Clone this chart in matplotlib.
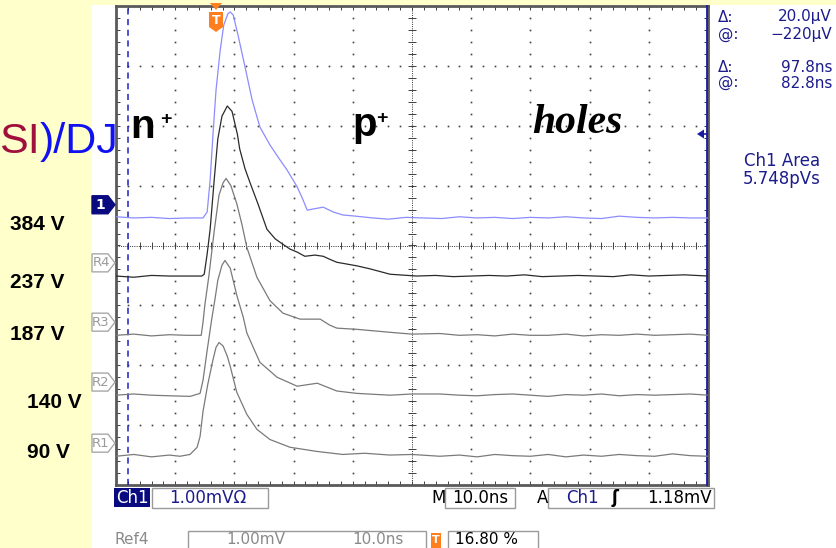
import matplotlib
matplotlib.use('Agg')
import matplotlib.pyplot as plt
from matplotlib.patches import Polygon, Rectangle
from matplotlib.collections import LineCollection
import numpy as np

# time in ns (10 ns/div), signal in mV (1 mV/div) above each trace's flat level
t_ch1 = [0, 3, 6, 9, 12, 14.7, 15.4, 15.9, 16.4, 16.9, 17.6, 18.2, 18.9, 19.3, 19.8, 20.6, 21.8, 23.0, 24.3, 26.0,
         27.7, 28.9, 30.6, 31.6, 32.3, 33.3, 35.0, 36.7, 38.3, 40.5, 43.4, 46, 49, 52, 55, 58, 61, 64, 67, 70,
         73, 76, 79, 82, 85, 88, 91, 94, 97, 100]
v_ch1 = [0.02, 0.00, 0.01, -0.01, 0.00, 0.00, 0.10, 0.63, 1.42, 2.14, 2.80, 3.22, 3.41, 3.44, 3.39, 3.06, 2.52, 1.97, 1.52, 1.22,
         0.97, 0.80, 0.52, 0.30, 0.13, 0.15, 0.18, 0.10, 0.05, 0.03, 0.00, -0.02, 0.01, 0.00, -0.01, 0.02, 0.00, 0.01, -0.01, 0.01,
         0.00, 0.02, 0.00, -0.01, 0.03, 0.01, 0.00, 0.01, 0.00, 0.00]

t_r4 = [0, 3, 6, 9, 12, 14.5, 14.9, 15.4, 15.9, 16.6, 17.2, 17.9, 18.8, 19.6, 20.5, 20.9, 21.8, 22.6, 24.0, 25.5,
        26.9, 28.2, 29.4, 30.6, 31.9, 33.6, 35.0, 36.1, 37.3, 39.0, 40.7, 42.9, 46.3, 50.8, 54, 57, 60, 63, 66, 69,
        72, 75, 78, 81, 84, 87, 90, 93, 96, 100]
v_r4 = [0.00, -0.02, 0.01, 0.00, 0.00, 0.00, 0.03, 0.37, 0.78, 1.62, 2.29, 2.67, 2.84, 2.75, 2.37, 2.12, 1.79, 1.57, 1.20, 0.78,
        0.62, 0.53, 0.45, 0.40, 0.33, 0.35, 0.33, 0.28, 0.23, 0.20, 0.17, 0.12, 0.03, 0.00, 0.01, -0.01, 0.00, 0.01, 0.00, 0.02,
        -0.01, 0.00, 0.01, 0.00, -0.01, 0.02, 0.00, 0.01, 0.02, 0.00]

t_r3 = [0, 3, 6, 9, 12, 14.4, 14.7, 15.0, 15.7, 16.6, 17.4, 18.1, 18.6, 19.4, 20.4, 21.3, 22.1, 23.8, 26.0, 28.2,
        31.1, 32.8, 34.5, 36.1, 37.3, 40.7, 46.3, 50, 54.7, 58, 61, 64, 67, 70, 73, 76, 79, 82, 85, 88,
        91, 94, 97, 100]
v_r3 = [0.00, 0.02, -0.01, 0.01, 0.00, 0.00, 0.22, 0.50, 1.00, 1.75, 2.34, 2.55, 2.62, 2.50, 2.20, 1.84, 1.47, 0.97, 0.58, 0.37,
        0.27, 0.27, 0.27, 0.17, 0.12, 0.10, 0.05, 0.02, 0.03, 0.00, 0.01, -0.01, 0.02, 0.00, 0.00, 0.02, -0.01, 0.01, 0.00, 0.02,
        0.00, 0.01, 0.02, 0.00]

t_r2 = [0, 3, 6, 9, 12.5, 14.2, 14.7, 15.4, 16.2, 16.7, 17.2, 17.9, 18.4, 19.3, 20.4, 21.5, 22.1, 24.3, 27.2, 30.6,
        34.0, 37.3, 40.7, 46.3, 50, 54.7, 58, 61, 64, 67, 70, 73, 76, 79, 82, 85, 88, 91, 94, 97, 100]
v_r2 = [0.00, 0.02, 0.00, -0.01, -0.02, 0.03, 0.25, 0.75, 1.29, 1.59, 1.92, 2.17, 2.25, 2.12, 1.67, 1.30, 1.04, 0.55, 0.30, 0.15,
        0.20, 0.07, 0.03, 0.00, 0.02, 0.02, 0.00, -0.01, 0.01, 0.02, 0.00, -0.02, 0.01, 0.00, 0.02, -0.01, 0.01, 0.00, 0.01, 0.02, 0.00]

t_r1 = [0, 3, 6, 9, 10.8, 12.5, 13.7, 14.2, 14.7, 15.5, 16.4, 16.9, 17.4, 18.1, 18.8, 19.3, 20.4, 22.1, 23.8, 26.0,
        29.4, 34.0, 38.3, 42, 46.3, 50, 54.7, 58, 61, 64, 67, 70, 73, 76, 79, 82, 85, 88, 91, 94, 97, 100]
v_r1 = [0.00, 0.03, -0.01, 0.02, 0.00, 0.03, 0.15, 0.33, 0.75, 1.20, 1.62, 1.82, 1.90, 1.84, 1.67, 1.50, 1.07, 0.70, 0.45, 0.28,
        0.15, 0.08, 0.03, 0.05, 0.02, 0.03, 0.00, 0.02, -0.01, 0.03, 0.01, 0.00, 0.03, -0.01, 0.02, 0.00, 0.03, 0.01, 0.00, 0.04, 0.01, 0.00]

trace_names = ['1', 'R4', 'R3', 'R2', 'R1']
ground_div = [0.68, -0.29, -1.28, -2.28, -3.30]   # marker positions on screen (div)
level_mv = -0.22                                    # flat level vs ground, mV
bias_labels = ['384 V', '237 V', '187 V', '140 V', '90 V']

W, H = 836, 548
YELLOW = '#FFFFCC'
NAVY = '#1C1C8C'
ORANGE = '#FF7F1E'
SANS = 'Liberation Sans'
SCOPE = 'DejaVu Sans'

fig = plt.figure(figsize=(W / 100, H / 100), dpi=100)
fig.patch.set_facecolor(YELLOW)

bg = fig.add_axes([0, 0, 1, 1])
bg.set_xlim(0, W)
bg.set_ylim(H, 0)
bg.axis('off')
bg.add_patch(Rectangle((92, 5), W - 92, H - 5, facecolor='white', edgecolor='none'))
bg.set_zorder(0)

# scope graticule: 10 x 8 divisions
sc = fig.add_axes([116 / W, (H - 485) / H, 592 / W, 479 / H])
sc.set_zorder(1)
sc.patch.set_alpha(0)
sc.set_xlim(0, 100)
sc.set_ylim(-4, 4)
sc.axis('off')

minor_x = np.arange(0, 100.01, 2)
minor_y = np.arange(-4, 4.001, 0.2)
for k in range(1, 10):
    if k == 5:
        continue
    sc.plot(np.full_like(minor_y, 10 * k), minor_y, ls='none', marker='s', ms=1.2, mew=0, color='#404040')
for j in range(-3, 4):
    if j == 0:
        continue
    sc.plot(minor_x, np.full_like(minor_x, j), ls='none', marker='s', ms=1.2, mew=0, color='#404040')

sc.axvline(50, ls=(0, (1, 1.3)), lw=0.7, color='#303030')
sc.axhline(0, ls=(0, (1, 1.3)), lw=0.7, color='#303030')
ticks = [[(50 - 0.6, y), (50 + 0.6, y)] for y in minor_y]
ticks += [[(x, -0.06), (x, 0.06)] for x in minor_x]
ticks += [[(0, y), (0.7, y)] for y in minor_y]
ticks += [[(99.3, y), (100, y)] for y in minor_y]
ticks += [[(x, 4), (x, 3.93)] for x in minor_x]
ticks += [[(x, -4), (x, -3.93)] for x in minor_x]
sc.add_collection(LineCollection(ticks, colors='#404040', linewidths=0.7))
for xs, ys in [([0, 0], [-4, 4]), ([0, 100], [4, 4]), ([0, 100], [-4, -4]), ([100, 100], [-4, 4])]:
    sc.plot(xs, ys, color='#5a5a5a', lw=2, clip_on=False, solid_capstyle='projecting')

# time cursors
sc.axvline(2.0, color='#2020C0', ls=(0, (4, 3)), lw=1.1)
sc.plot([99.75, 99.75], [-4, 4], color='#1A1AA0', lw=1.3, clip_on=False)

traces = [(t_ch1, v_ch1, '#8C8CFF'), (t_r4, v_r4, '#2a2a2a'), (t_r3, v_r3, '#7a7a7a'),
          (t_r2, v_r2, '#7a7a7a'), (t_r1, v_r1, '#7a7a7a')]
for (t, v, c), g in zip(traces, ground_div):
    sc.plot(t, np.array(v) + g + level_mv, color=c, lw=0.9)

ov = fig.add_axes([0, 0, 1, 1])
ov.set_zorder(2)
ov.patch.set_alpha(0)
ov.set_xlim(0, W)
ov.set_ylim(H, 0)
ov.axis('off')


def to_px(div):
    return 245.5 - div * 59.9


# ground markers on the left edge
for name, g in zip(trace_names, ground_div):
    c = to_px(g)
    pts = [(92, c - 9), (108, c - 9), (115, c), (108, c + 9), (92, c + 9)]
    if name == '1':
        ov.add_patch(Polygon(pts, closed=True, facecolor='#0A0A80', edgecolor='#0A0A80', lw=1))
        ov.text(100, c, name, color='white', fontsize=10, fontweight='bold', family=SCOPE, ha='center', va='center')
    else:
        ov.add_patch(Polygon(pts, closed=True, facecolor='white', edgecolor='#a8a8a8', lw=1))
        ov.text(101, c, name, color='#9a9a9a', fontsize=9.5, family=SCOPE, ha='center', va='center')

# trigger marker
ov.add_patch(Polygon([(210, 3), (222, 3), (216, 10)], closed=True, facecolor=ORANGE, edgecolor='none'))
ov.add_patch(Polygon([(209, 12), (223, 12), (223, 27), (216, 32), (209, 27)], closed=True,
                     facecolor=ORANGE, edgecolor='none'))
ov.text(216, 21, 'T', color='white', fontsize=9, fontweight='bold', family=SCOPE, ha='center', va='center')

# voltage cursor arrow
ov.add_patch(Polygon([(697, 134), (704, 129.5), (704, 138.5)], closed=True, facecolor='#1A1AA0', edgecolor='none'))
ov.plot([700, 707], [134, 134], color='#1A1AA0', lw=1.2)

# slide annotations
ov.text(40, 153, 'SI', color='#A0103C', fontsize=31, family=SANS, ha='right', va='baseline')
ov.text(40, 153, ')/DJ', color='#1010F0', fontsize=31, family=SANS, ha='left', va='baseline')
ov.text(130, 138, 'n', fontsize=29, fontweight='bold', family=SANS, va='baseline')
ov.text(160, 124, '+', fontsize=14, fontweight='bold', family=SANS, va='baseline')
ov.text(352, 136, 'p', fontsize=29, fontweight='bold', family=SANS, va='baseline')
ov.text(376, 123, '+', fontsize=14, fontweight='bold', family=SANS, va='baseline')
ov.text(532, 133, 'holes', fontsize=30, fontweight='bold', fontstyle='italic', family='Liberation Serif', va='baseline')

bias_xy = [(10, 230), (10, 288), (10, 340), (27, 408), (27, 458)]
for lab, (x, y) in zip(bias_labels, bias_xy):
    ov.text(x, y, lab, fontsize=15, fontweight='bold', family=SANS, va='baseline')

# readouts on the right
for y, a, b in [(17, 'Δ:', '20.0µV'), (34, '@:', '−220µV'), (67, 'Δ:', '97.8ns'), (83, '@:', '82.8ns')]:
    ov.text(718, y, a, color=NAVY, fontsize=11, family=SCOPE, va='center')
    ov.text(832, y, b, color=NAVY, fontsize=11, family=SCOPE, va='center', ha='right')
ov.text(782, 161, 'Ch1 Area', color=NAVY, fontsize=12, family=SCOPE, va='center', ha='center')
ov.text(782, 179, '5.748pVs', color=NAVY, fontsize=12, family=SCOPE, va='center', ha='center')

# status bar
ov.add_patch(Rectangle((114, 488), 36, 19, facecolor='#0A0A80', edgecolor='none'))
ov.text(132, 498, 'Ch1', color='white', fontsize=12, family=SCOPE, ha='center', va='center')
for x0, w in [(152, 116), (445, 70), (548, 166)]:
    ov.add_patch(Rectangle((x0, 488), w, 20, facecolor='white', edgecolor='#9a9a9a', lw=1))
ov.text(169, 498, '1.00mVΩ', color=NAVY, fontsize=12, family=SCOPE, va='center')
ov.text(431, 498, 'M', color='black', fontsize=12, family=SCOPE, va='center')
ov.text(480, 498, '10.0ns', color='black', fontsize=12, family=SCOPE, va='center', ha='center')
ov.text(537, 498, 'A', color='black', fontsize=12, family=SCOPE, va='center')
ov.text(566, 498, 'Ch1', color=NAVY, fontsize=12, family=SCOPE, va='center')
ov.text(612, 498, 'ʃ', color='black', fontsize=12, fontweight='bold', family=SCOPE, va='center')
ov.text(712, 498, '1.18mV', color='black', fontsize=12, family=SCOPE, va='center', ha='right')

ov.text(114, 539, 'Ref4', color='#8a8a8a', fontsize=11, family=SCOPE, va='center')
for x0, w in [(188, 238), (448, 90)]:
    ov.add_patch(Rectangle((x0, 531), w, 30, facecolor='white', edgecolor='#9a9a9a', lw=1))
ov.text(226, 539, '1.00mV', color='#8a8a8a', fontsize=11, family=SCOPE, va='center')
ov.text(352, 539, '10.0ns', color='#8a8a8a', fontsize=11, family=SCOPE, va='center')
ov.add_patch(Rectangle((431, 533), 10, 15, facecolor=ORANGE, edgecolor='none'))
ov.text(436, 540, 'T', color='white', fontsize=8, fontweight='bold', family=SCOPE, ha='center', va='center')
ov.text(455, 539, '16.80 %', color='black', fontsize=11, family=SCOPE, va='center')

fig.savefig('out.png', dpi=100, facecolor=fig.get_facecolor())
